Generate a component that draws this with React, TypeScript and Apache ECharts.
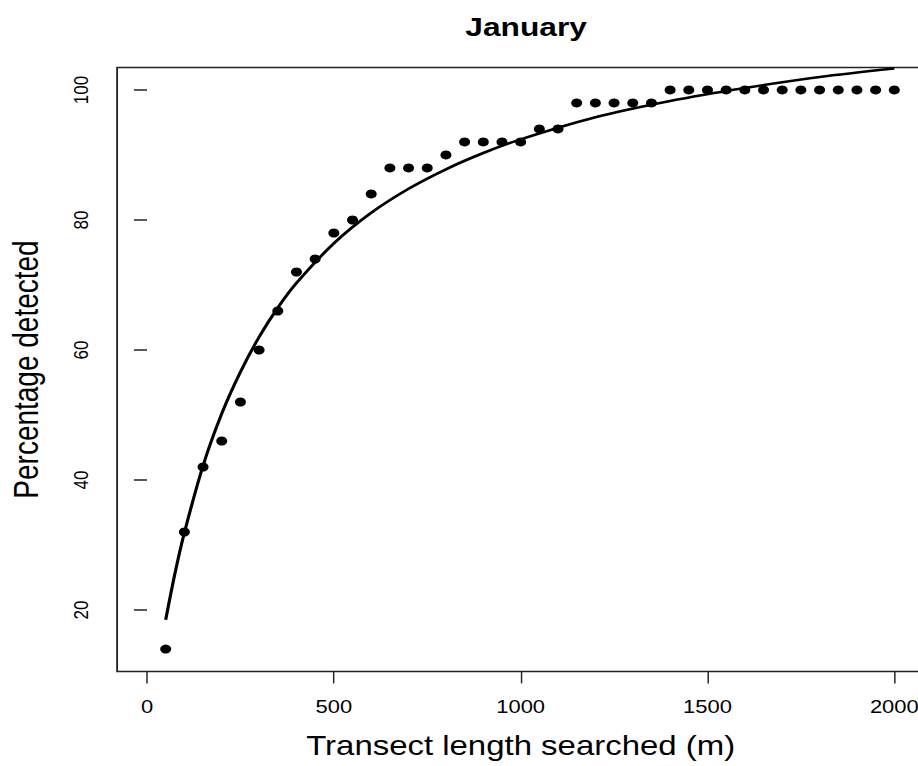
import React, { useEffect, useRef } from "react";
import * as echarts from "echarts";

// Observed detections (transect length in m, percentage detected)
const lengths = [
  50, 100, 150, 200, 250, 300, 350, 400, 450, 500,
  550, 600, 650, 700, 750, 800, 850, 900, 950, 1000,
  1050, 1100, 1150, 1200, 1250, 1300, 1350, 1400, 1450, 1500,
  1550, 1600, 1650, 1700, 1750, 1800, 1850, 1900, 1950, 2000,
];
const detected = [
  14, 32, 42, 46, 52, 60, 66, 72, 74, 78,
  80, 84, 88, 88, 88, 90, 92, 92, 92, 92,
  94, 94, 98, 98, 98, 98, 98, 100, 100, 100,
  100, 100, 100, 100, 100, 100, 100, 100, 100, 100,
];

// Fitted curve
const curveX = [50, 75, 100, 150, 200, 250, 300, 350, 400, 500, 600, 700, 800, 900, 1000, 1200, 1400, 1600, 1800, 2000];
const curveY = [18.5, 25.7, 31.9, 42.2, 50.2, 56.6, 62.0, 66.5, 70.3, 76.4, 81.1, 84.8, 87.8, 90.3, 92.4, 95.8, 98.3, 100.3, 102.0, 103.3];

const xTicks = [0, 500, 1000, 1500, 2000];
const yTicks = [20, 40, 60, 80, 100];

const titleText = "January";
const xName = "Transect length searched (m)";
const yName = "Percentage detected";

const FONT = "'Liberation Sans', Arial, Helvetica, sans-serif";
const SX = 1.22;

export default function App() {
  const ref = useRef<HTMLDivElement>(null);

  useEffect(() => {
    if (!ref.current) return;
    const chart = echarts.init(ref.current, undefined, { renderer: "svg" });
    const gridLeft = 116.1 / SX;
    const gridWidth = (924.2 - 116.1) / SX;
    chart.setOption({
      animation: false,
      backgroundColor: "#ffffff",
      title: {
        text: titleText,
        left: 520 / SX,
        textAlign: "center",
        top: 9,
        textStyle: { fontFamily: FONT, fontWeight: "bold", fontSize: 26, color: "#000" },
      },
      grid: {
        left: gridLeft,
        width: gridWidth,
        top: 67.6,
        height: 603.8,
        show: true,
        borderColor: "#222",
        borderWidth: 1.5,
        backgroundColor: "transparent",
      },
      xAxis: {
        type: "value",
        min: -80,
        max: 2080,
        name: xName,
        nameLocation: "middle",
        nameGap: 61,
        nameTextStyle: { fontFamily: FONT, fontSize: 27, color: "#000" },
        axisLine: { show: false },
        splitLine: { show: false },
        axisTick: {
          show: true,
          inside: false,
          length: 12,
          customValues: xTicks,
          lineStyle: { color: "#222", width: 1.2 },
        },
        axisLabel: {
          customValues: xTicks,
          margin: 26,
          fontFamily: FONT,
          fontSize: 18,
          color: "#000",
          formatter: (v: number) => String(v),
        },
      },
      yAxis: {
        type: "value",
        min: 10.56,
        max: 103.44,
        name: yName,
        nameLocation: "middle",
        nameRotate: 90,
        nameGap: 60,
        nameTextStyle: { fontFamily: FONT, fontSize: 28, color: "#000" },
        axisLine: { show: false },
        splitLine: { show: false },
        axisTick: {
          show: true,
          inside: false,
          length: 10.7,
          customValues: yTicks,
          lineStyle: { color: "#222", width: 1.5 },
        },
        axisLabel: {
          customValues: yTicks,
          rotate: 90,
          margin: 21,
          fontFamily: FONT,
          fontSize: 17,
          color: "#000",
          formatter: (v: number) => String(v),
        },
      },
      series: [
        {
          type: "scatter",
          data: lengths.map((x, i) => [x, detected[i]]),
          symbol: "circle",
          symbolSize: 9,
          itemStyle: { color: "#000", opacity: 1 },
          z: 3,
        },
        {
          type: "line",
          data: curveX.map((x, i) => [x, curveY[i]]),
          smooth: 0.3,
          showSymbol: false,
          symbol: "none",
          lineStyle: { color: "#000", width: 2.6 },
          z: 2,
        },
      ],
    });
    return () => chart.dispose();
  }, []);

  return (
    <div
      style={{
        position: "absolute",
        left: 0,
        top: 0,
        width: 918,
        height: 766,
        overflow: "hidden",
        background: "#fff",
      }}
    >
      <div
        ref={ref}
        style={{
          width: 770,
          height: 766,
          transform: `scaleX(${SX})`,
          transformOrigin: "0 0",
        }}
      />
    </div>
  );
}
